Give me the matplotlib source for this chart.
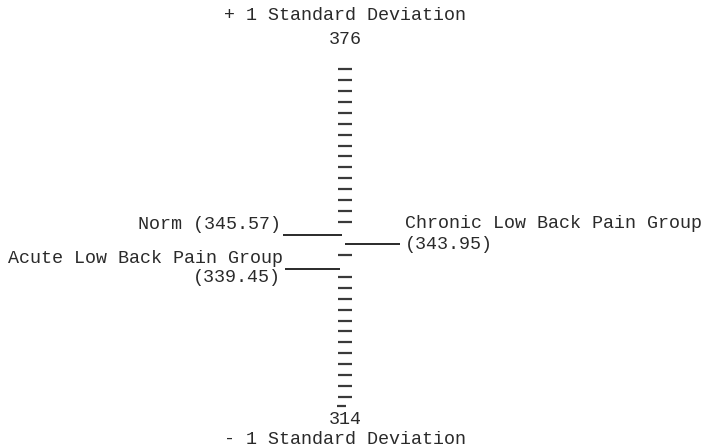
import numpy as np
import matplotlib
matplotlib.use("Agg")
import matplotlib.pyplot as plt

# scale from -1 SD to +1 SD
scale_low = 314
scale_high = 376
scale_step = 2

# group means
groups = ["Norm", "Chronic Low Back Pain Group", "Acute Low Back Pain Group"]
means = [345.57, 343.95, 339.45]

plt.rcParams["font.family"] = ["Liberation Mono", "DejaVu Sans Mono"]
fs = 13.2
ink = "#2a2a2a"

fig = plt.figure(figsize=(7.06, 4.47), dpi=100)
ax = fig.add_axes([0, 0, 1, 1])
ax.set_xlim(0, 706)
# 1 unit on the scale ~ 5.47 px, top tick (376) at ~69 px from the top
ppu = 5.468
ax.set_ylim(scale_high - (447 - 69) / ppu, scale_high + 69 / ppu)
ax.axis("off")

# tick marks, left out where a group line comes in
ticks = np.arange(scale_low, scale_high + 1, scale_step)
for t in ticks:
    if min(abs(t - m) for m in means) < 1:
        continue
    if t == scale_low:
        ax.hlines(t + 0.3, 337, 346, color="#3a3a3a", lw=1.6)
    else:
        ax.hlines(t, 338, 352, color="#3a3a3a", lw=1.6)

# scale end labels
ax.text(345, scale_high + 54 / ppu, "+ 1 Standard Deviation", ha="center",
        va="center", fontsize=fs, color=ink)
ax.text(345, scale_high + 29 / ppu, str(scale_high), ha="center",
        va="center", fontsize=fs, color=ink)
ax.text(345, scale_low - 11 / ppu, str(scale_low), ha="center",
        va="center", fontsize=fs, color=ink)
ax.text(345, scale_low - 31 / ppu, "- 1 Standard Deviation", ha="center",
        va="center", fontsize=fs, color=ink)

# Norm
norm = means[0]
ax.hlines(norm, 283, 342, color=ink, lw=1.4)
ax.text(281, norm + 0.4, "%s (%.2f)" % (groups[0], norm), ha="right",
        va="bottom", fontsize=fs, color=ink)

# Chronic group, to the right
chronic = means[1]
ax.hlines(chronic, 345, 400, color=ink, lw=1.4)
ax.text(405, chronic + 3.8, groups[1], ha="left", va="center",
        fontsize=fs, color=ink)
ax.text(405, chronic, "(%.2f)" % chronic, ha="left", va="center",
        fontsize=fs, color=ink)

# Acute group, to the left
acute = means[2]
ax.hlines(acute, 285, 340, color=ink, lw=1.4)
ax.text(283, acute + 0.4, groups[2], ha="right", va="bottom",
        fontsize=fs, color=ink)
ax.text(281, acute - 1.6, "(%.2f)" % acute, ha="right", va="center",
        fontsize=fs, color=ink)

fig.savefig("out.png", dpi=100, facecolor="white")
